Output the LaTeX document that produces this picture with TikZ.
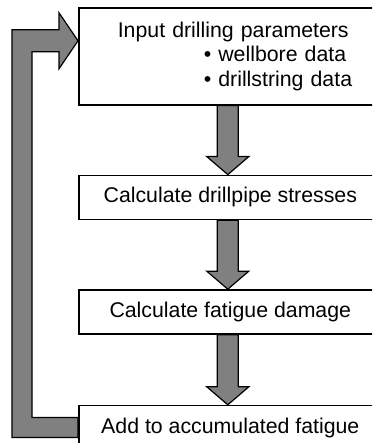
\documentclass[tikz,border=0pt]{standalone}
\usepackage{fontspec}
\setmainfont{Liberation Sans}
\usetikzlibrary{positioning,calc}
\usetikzlibrary{backgrounds}
\definecolor{fc-grey}{RGB}{128,128,128}
\definecolor{fc-black}{RGB}{0,0,0}

\begin{document}
\begin{tikzpicture}[x=1pt,y=1pt,
	node distance=69pt,
	step box/.style={draw=fc-black, line width=1.6pt, fill=white, minimum width=303pt,
		minimum height=44pt, inner sep=0pt, font=\fontsize{21.3}{24.5}\selectfont},
	fat arrow/.style={draw=fc-black, line width=1.2pt, fill=fc-grey, line join=miter}]
% PICTURE IS CUT OFF ON THE RIGHT AND AT THE BOTTOM
\useasboundingbox (0,0) rectangle (372,443);
\clip (0,0) rectangle (372,443);

\node[step box, minimum height=97pt, text width=303pt, align=left, anchor=north west] (in) at (78,436)
	{\hspace*{39pt}Input drilling parameters\\
	 \hspace*{125pt}• wellbore data\\
	 \hspace*{125pt}• drillstring data};
\node[step box, below=of in] (stress) {Calculate drillpipe stresses};
\node[step box, below=of stress] (damage) {Calculate fatigue damage};
\node[step box, below=70pt of damage] (acc) {Add to accumulated fatigue};

	\begin{pgfonlayer}{background}
		\foreach \a/\b in {in/stress, stress/damage, damage/acc}
			\filldraw[fat arrow] let \p1=([xshift=-2.5pt]\a.south), \p2=([xshift=-2.5pt]\b.north) in
				(\x1-10.5pt,\y1) -- (\x1-10.5pt,\y2+18pt) -- (\x1-21pt,\y2+18pt) -- (\x2,\y2)
				-- (\x1+21pt,\y2+18pt) -- (\x1+10.5pt,\y2+18pt) -- (\x1+10.5pt,\y1) -- cycle;
		% feedback loop back to the input box
		\filldraw[fat arrow] let \p1=(acc.west), \p2=([yshift=15.5pt]in.west) in
			(\x1,\y1-10pt) -- (12pt,\y1-10pt) -- (12pt,\y2+11pt) -- (59pt,\y2+11pt)
			-- (59pt,\y2+28pt) -- (\x2,\y2) -- (59pt,\y2-28pt) -- (59pt,\y2-11pt)
			-- (32pt,\y2-11pt) -- (32pt,\y1+10pt) -- (\x1,\y1+10pt) -- cycle;
	\end{pgfonlayer}

\end{tikzpicture}
\end{document}
